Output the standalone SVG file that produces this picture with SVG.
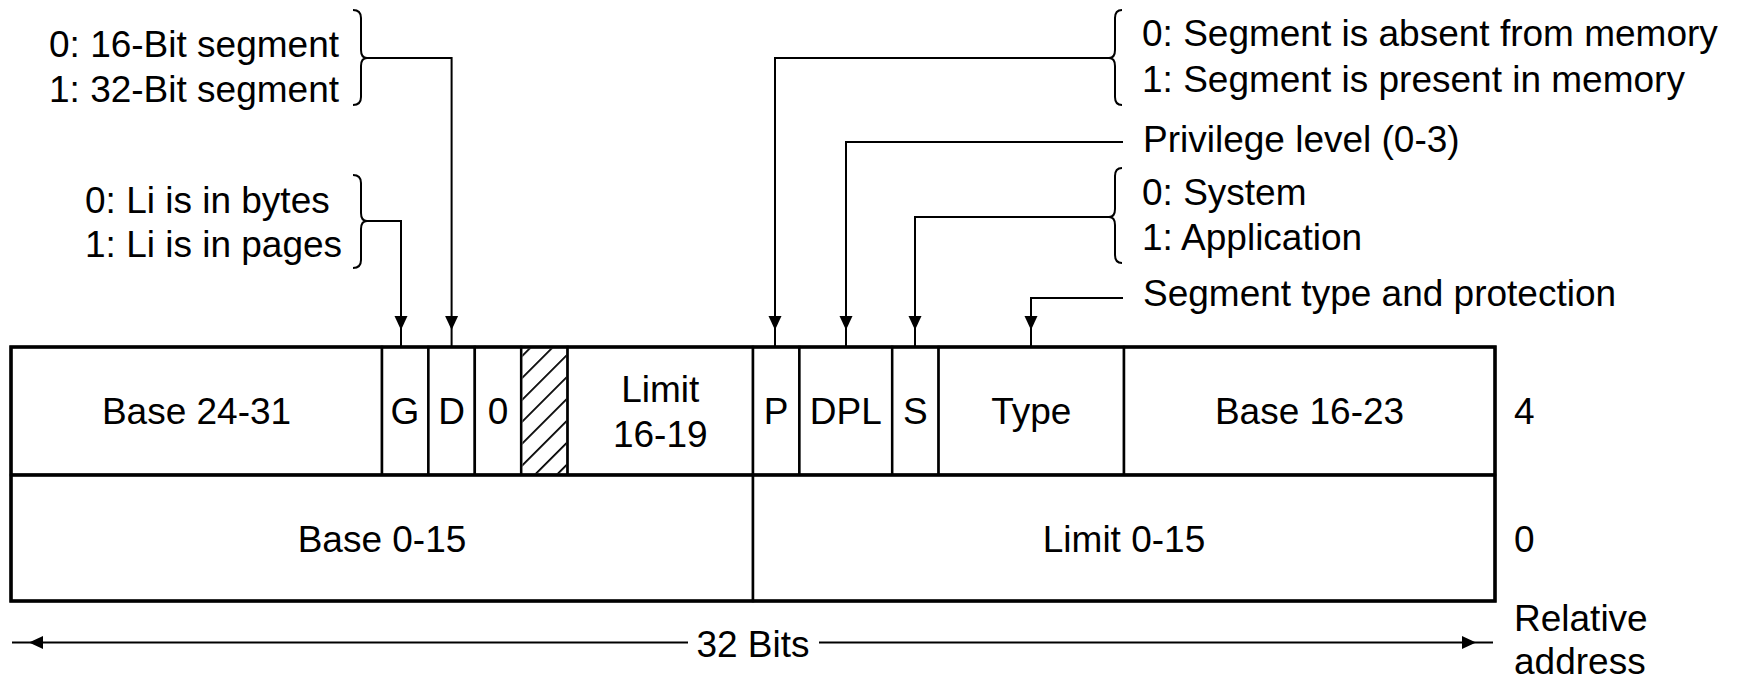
<svg xmlns="http://www.w3.org/2000/svg" width="1740" height="681" viewBox="0 0 1740 681">
<style>
.t{font-family:"Liberation Sans",Arial,Helvetica,sans-serif;font-size:37px;fill:#000}
.c{text-anchor:middle}
.cell{fill:#fff;stroke:#000;stroke-width:2.5}
.frame{fill:none;stroke:#000;stroke-width:3.5}
.conn{fill:none;stroke:#000;stroke-width:2}
.brace{fill:none;stroke:#000;stroke-width:2}
.a{marker-end:url(#arr)}
</style>
<defs>
<marker id="arr" markerUnits="userSpaceOnUse" viewBox="-40 -10 50 20" markerWidth="50" markerHeight="20" refX="0" refY="0" orient="auto">
<path d="M-31,-6.5 L-17,0 L-31,6.5 Z" fill="#000"/>
</marker>
<pattern id="hatch" patternUnits="userSpaceOnUse" width="10" height="15.5" patternTransform="rotate(-45)">
<rect x="0" y="0" width="10" height="1.8" fill="#000"/>
</pattern>
</defs>
<rect width="1740" height="681" fill="#fff"/>

<g id="row4">
<g id="base24-31"><rect class="cell" x="11" y="347" width="371" height="128"/><text class="t c" x="196.5" y="424">Base 24-31</text></g>
<g id="g-bit"><rect class="cell" x="382" y="347" width="46.4" height="128"/><text class="t c" x="405" y="424">G</text></g>
<g id="d-bit"><rect class="cell" x="428.4" y="347" width="46.4" height="128"/><text class="t c" x="451.6" y="424">D</text></g>
<g id="zero-bit"><rect class="cell" x="474.8" y="347" width="46.4" height="128"/><text class="t c" x="498" y="424">0</text></g>
<g id="avl-bit"><rect class="cell" x="521.2" y="347" width="46.4" height="128"/><rect x="522.5" y="348.5" width="43.8" height="125" fill="url(#hatch)"/></g>
<g id="limit16-19"><rect class="cell" x="567.6" y="347" width="185.4" height="128"/><text class="t c" x="660.3" y="402">Limit</text><text class="t c" x="660.3" y="447">16-19</text></g>
<g id="p-bit"><rect class="cell" x="753" y="347" width="46.4" height="128"/><text class="t c" x="776" y="424">P</text></g>
<g id="dpl"><rect class="cell" x="799.4" y="347" width="92.8" height="128"/><text class="t c" x="845.8" y="424">DPL</text></g>
<g id="s-bit"><rect class="cell" x="892.2" y="347" width="46.4" height="128"/><text class="t c" x="915.4" y="424">S</text></g>
<g id="type"><rect class="cell" x="938.6" y="347" width="185.4" height="128"/><text class="t c" x="1031.3" y="424">Type</text></g>
<g id="base16-23"><rect class="cell" x="1124" y="347" width="371" height="128"/><text class="t c" x="1309.5" y="424">Base 16-23</text></g>
</g>
<g id="row0">
<g id="base0-15"><rect class="cell" x="11" y="475" width="742" height="126"/><text class="t c" x="382" y="552">Base 0-15</text></g>
<g id="limit0-15"><rect class="cell" x="753" y="475" width="742" height="126"/><text class="t c" x="1124" y="552">Limit 0-15</text></g>
</g>
<g id="frame"><rect class="frame" x="11" y="347" width="1484" height="254"/><line class="frame" x1="11" y1="475" x2="1495" y2="475"/></g>

<g id="offsets">
<text class="t" x="1514" y="424">4</text>
<text class="t" x="1514" y="552">0</text>
<text class="t" x="1514" y="631">Relative</text>
<text class="t" x="1514" y="674">address</text>
</g>

<g id="ann-d">
<text class="t" x="49" y="57">0: 16-Bit segment</text>
<text class="t" x="49" y="102">1: 32-Bit segment</text>
<path class="brace" d="M353,10 Q361,10 361,18 L361,50 Q361,58 367,58 Q361,58 361,66 L361,97 Q361,105 353,105"/>
</g>
<g id="ann-g">
<text class="t" x="85" y="213">0: Li is in bytes</text>
<text class="t" x="85" y="257">1: Li is in pages</text>
<path class="brace" d="M353,175 Q361,175 361,183 L361,213 Q361,221 367,221 Q361,221 361,229 L361,260 Q361,268 353,268"/>
</g>
<g id="ann-p">
<text class="t" x="1142" y="46">0: Segment is absent from memory</text>
<text class="t" x="1142" y="92">1: Segment is present in memory</text>
<path class="brace" d="M1122,10 Q1115,10 1115,18 L1115,50 Q1115,58 1109,58 Q1115,58 1115,66 L1115,97 Q1115,105 1122,105"/>
</g>
<g id="ann-dpl">
<text class="t" x="1143" y="152">Privilege level (0-3)</text>
</g>
<g id="ann-s">
<text class="t" x="1142" y="205">0: System</text>
<text class="t" x="1142" y="250">1: Application</text>
<path class="brace" d="M1122,168 Q1115,168 1115,176 L1115,209 Q1115,217 1109,217 Q1115,217 1115,225 L1115,255 Q1115,263 1122,263"/>
</g>
<g id="ann-type">
<text class="t" x="1143" y="306">Segment type and protection</text>
</g>
<g id="width-label">
<text class="t c" x="753" y="657">32 Bits</text>
</g>

<g id="connectors">
<path class="conn a" d="M367,58 H451.6 V347"/>
<path class="conn a" d="M367,221 H401 V347"/>
<path class="conn a" d="M1109,58 H775 V347"/>
<path class="conn a" d="M1123,142 H846 V347"/>
<path class="conn a" d="M1109,217 H915 V347"/>
<path class="conn a" d="M1123,298 H1031 V347"/>
<path class="conn a" d="M688,642.5 H12"/>
<path class="conn a" d="M819,642.5 H1493"/>
</g>
</svg>
